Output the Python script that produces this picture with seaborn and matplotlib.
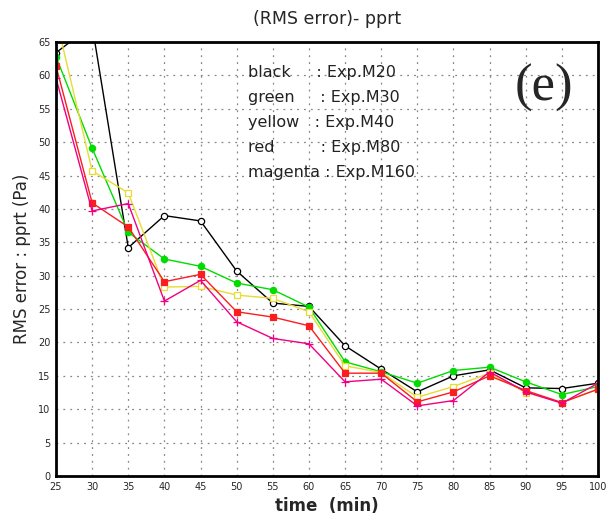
import numpy as np
import pandas as pd
import matplotlib
matplotlib.use("Agg")
import matplotlib.pyplot as plt
import seaborn as sns

# ===== DONNEES =====
time_min = [25, 30, 35, 40, 45, 50, 55, 60, 65, 70, 75, 80, 85, 90, 95, 100]

m20 = [63.4, 67.5, 34.2, 39.0, 38.2, 30.7, 25.9, 25.4, 19.5, 16.0, 12.6, 15.0, 15.9, 13.2, 13.1, 13.9]
m30 = [62.8, 49.1, 36.5, 32.5, 31.4, 28.9, 27.9, 25.3, 17.1, 15.6, 13.9, 15.8, 16.3, 14.1, 12.2, 13.4]
m40 = [68.6, 45.7, 42.4, 28.3, 28.4, 27.1, 26.6, 24.6, 16.5, 15.5, 11.8, 13.4, 15.4, 12.5, 11.0, 13.0]
m80 = [61.4, 40.9, 37.3, 29.1, 30.2, 24.6, 23.8, 22.5, 15.4, 15.4, 11.1, 12.6, 15.0, 12.8, 11.0, 13.0]
m160 = [59.6, 39.7, 40.8, 26.2, 29.3, 23.1, 20.6, 19.8, 14.1, 14.5, 10.5, 11.3, 15.6, 12.6, 10.9, 13.9]

legend_lines = [
    "black     : Exp.M20",
    "green     : Exp.M30",
    "yellow   : Exp.M40",
    "red         : Exp.M80",
    "magenta : Exp.M160",
]

# couleurs style GrADS
series = [
    (m20, "black", "o", "white"),
    (m30, "#00dc00", "o", "#00dc00"),
    (m40, "#e6dc32", "s", "white"),
    (m80, "#fa1e1e", "s", "#fa1e1e"),
    (m160, "#f00082", "+", "#f00082"),
]

sns.set_style("white")
plt.rcParams["font.family"] = ["DejaVu Sans"]

fig = plt.figure(figsize=(6.08, 5.21), dpi=100)
ax = fig.add_axes([56 / 608, 1 - 476 / 521, 542 / 608, 434 / 521])

for vals, col, mk, fc in series:
    sns.lineplot(x=time_min, y=vals, ax=ax, color=col, linewidth=1.0,
                 marker=mk, markersize=4.5 if mk != "+" else 6,
                 markerfacecolor=fc, markeredgecolor=col, markeredgewidth=0.9)

ax.set_xlim(25, 100)
ax.set_ylim(0, 65)
ax.set_xticks(np.arange(25, 101, 5))
ax.set_yticks(np.arange(0, 66, 5))
ax.tick_params(axis="both", labelsize=7, length=3, width=1, direction="out", pad=1)
ax.grid(True, color="#888888", linestyle=(0, (1.5, 4)), linewidth=0.9)
for s in ax.spines.values():
    s.set_linewidth(2)
    s.set_color("black")

ax.set_title("(RMS error)- pprt", fontsize=12.5, pad=13)
ax.set_xlabel("time  (min)", fontsize=12, fontweight="bold", labelpad=4)
ax.set_ylabel("RMS error : pprt (Pa)", fontsize=12, labelpad=5)

# ===== LEGENDE TEXTE =====
for i, txt in enumerate(legend_lines):
    ax.text(0.355, 0.93 - i * 0.0575, txt, transform=ax.transAxes,
            fontsize=11.5, color="#222222", va="center", ha="left")

ax.text(0.955, 0.895, "(e)", transform=ax.transAxes, fontsize=38,
        family="Liberation Serif", ha="right", va="center")

fig.savefig("out.png", dpi=100)
